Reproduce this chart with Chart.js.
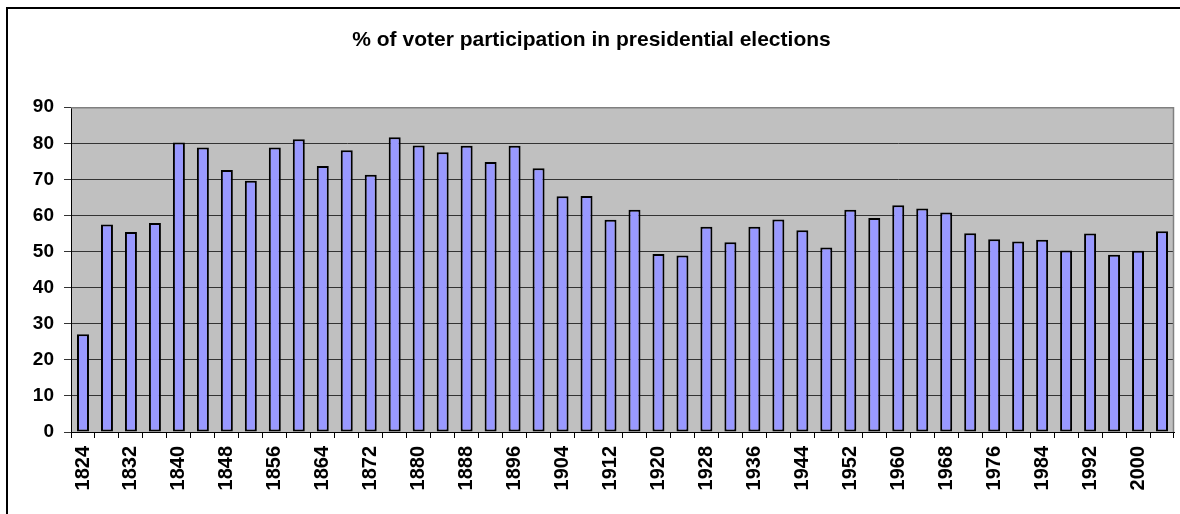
<!DOCTYPE html>
<html>
<head>
<meta charset="utf-8">
<script src="https://cdn.jsdelivr.net/npm/chart.js@4.4.0/dist/chart.umd.min.js"></script>
<style>
  html, body { margin: 0; padding: 0; background: #fff; }
  #wrap { width: 1180px; height: 514px; position: relative; }
</style>
</head>
<body>
<div id="wrap"><canvas id="c" width="1180" height="514"></canvas></div>
<script>
const years = [1824,1828,1832,1836,1840,1844,1848,1852,1856,1860,1864,1868,1872,1876,1880,1884,1888,1892,1896,1900,1904,1908,1912,1916,1920,1924,1928,1932,1936,1940,1944,1948,1952,1956,1960,1964,1968,1972,1976,1980,1984,1988,1992,1996,2000,2004];
const participation = [27.1,57.5,55.4,57.9,80.2,78.8,72.6,69.6,78.8,81.1,73.7,78.1,71.3,81.7,79.4,77.5,79.3,74.8,79.3,73.1,65.3,65.4,58.8,61.6,49.3,48.9,56.9,52.6,56.9,58.9,55.9,51.1,61.6,59.3,62.8,61.9,60.8,55.1,53.4,52.8,53.3,50.3,55.0,49.1,50.2,55.6];
const yTicks = [0,10,20,30,40,50,60,70,80,90];
const titleText = '% of voter participation in presidential elections';

const frame = {
  id: 'frame',
  beforeDraw(chart) {
    const {ctx, chartArea: a} = chart;
    ctx.save();
    ctx.fillStyle = '#C0C0C0';
    ctx.fillRect(a.left, a.top, a.right - a.left, a.bottom - a.top);
    ctx.restore();
  },
  afterDraw(chart) {
    const {ctx, chartArea: a} = chart;
    ctx.save();
    ctx.strokeStyle = '#808080';
    ctx.lineWidth = 1.5;
    ctx.beginPath();
    ctx.moveTo(a.left, a.top + 0.5);
    ctx.lineTo(a.right - 0.5, a.top + 0.5);
    ctx.lineTo(a.right - 0.5, a.bottom);
    ctx.stroke();
    ctx.strokeStyle = '#000';
    ctx.lineWidth = 2;
    ctx.beginPath();
    ctx.moveTo(7, 514);
    ctx.lineTo(7, 8);
    ctx.lineTo(1180, 8);
    ctx.stroke();
    ctx.restore();
  }
};

new Chart(document.getElementById('c'), {
  type: 'bar',
  data: {
    labels: years.map(String),
    datasets: [{
      data: participation,
      backgroundColor: '#9999FF',
      borderColor: '#000000',
      borderWidth: 2,
      borderSkipped: false,
      categoryPercentage: 1,
      barPercentage: 0.5
    }]
  },
  options: {
    responsive: false,
    animation: false,
    layout: { padding: { left: 9, right: 6, top: 0, bottom: 0 } },
    plugins: {
      legend: { display: false },
      tooltip: { enabled: false },
      title: {
        display: true,
        text: titleText,
        color: '#000',
        font: { family: 'Arial, "Liberation Sans", sans-serif', size: 21, weight: 'bold' },
        padding: { top: 28, bottom: 54 }
      }
    },
    scales: {
      x: {
        offset: true,
        grid: { display: true, offset: true, drawOnChartArea: false, drawTicks: true, tickLength: 6, color: '#000' },
        border: { display: true, color: '#000', width: 1 },
        ticks: {
          autoSkip: false,
          minRotation: 90,
          maxRotation: 90,
          padding: 8,
          color: '#000',
          font: { family: 'Arial, "Liberation Sans", sans-serif', size: 20, weight: 'bold' },
          callback: function(v, i) { return i % 2 === 0 ? years[i] : ''; }
        },
        afterFit(s) { s.height = 82; s.paddingRight = 0; s.paddingLeft = 0; }
      },
      y: {
        min: 0, max: 90,
        afterBuildTicks(s) { s.ticks = yTicks.map(v => ({ value: v })); },
        grid: { color: '#333333', lineWidth: 1, tickLength: 7, drawTicks: true },
        border: { display: true, color: '#000', width: 1 },
        ticks: {
          padding: 10,
          color: '#000',
          font: { family: 'Arial, "Liberation Sans", sans-serif', size: 19, weight: 'bold' }
        },
        afterFit(s) { s.width = 62; }
      }
    }
  },
  plugins: [frame]
});
</script>
</body>
</html>
